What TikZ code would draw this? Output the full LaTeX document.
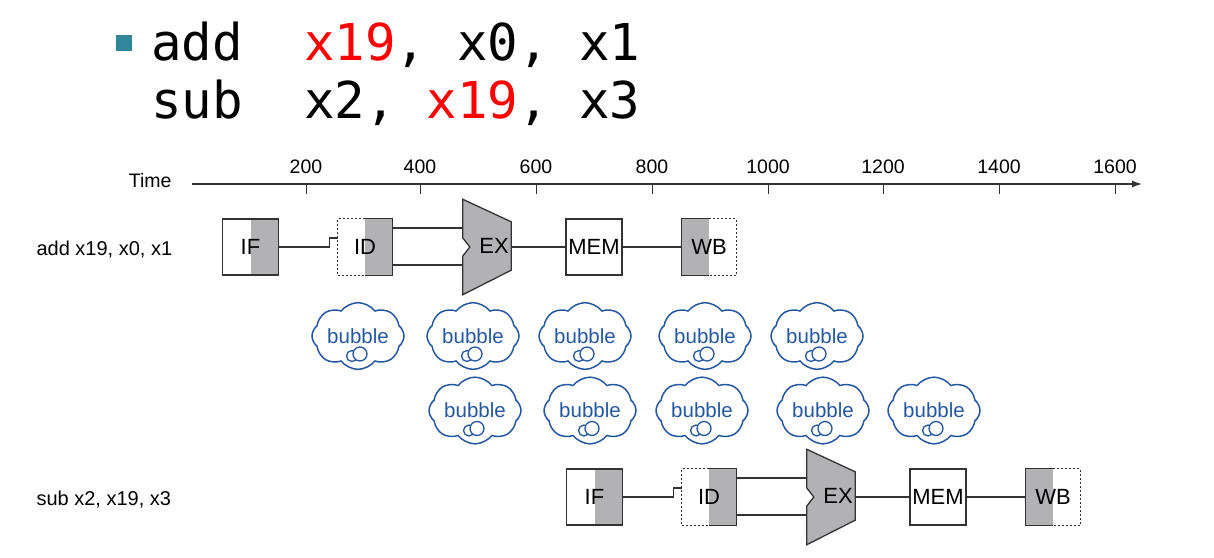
\documentclass[tikz,border=0pt]{standalone}
\usepackage{fontspec}
\setmainfont{Liberation Sans}
\setmonofont{DejaVu Sans Mono}
\usetikzlibrary{arrows.meta,calc,shapes.symbols}
\definecolor{StageGray}{HTML}{B2B2B4}
\definecolor{LineGray}{HTML}{333333}
\definecolor{BubbleBlue}{HTML}{2457A0}
\definecolor{CodeRed}{HTML}{FF0000}
\definecolor{BulletTeal}{HTML}{31869B}

\begin{document}
\begin{tikzpicture}[x=1pt,y=-1pt,>=Latex,
  every node/.style={font=\fontsize{19.5}{19.5}\selectfont},
  code/.style={anchor=base west, inner sep=0pt, font=\ttfamily\fontsize{50.8}{50.8}\selectfont},
  stage/.style={minimum width=56pt, minimum height=56pt, inner sep=0pt, font=\fontsize{22}{22}\selectfont},
  grayright/.style={path picture={\fill[StageGray] (path picture bounding box.south) rectangle (path picture bounding box.north east);}},
  grayleft/.style={path picture={\fill[StageGray] (path picture bounding box.south west) rectangle (path picture bounding box.north);}},
  wire/.style={LineGray, line width=1.3pt},
  halfdot/.style={LineGray, line width=1.3pt, dash pattern=on 2pt off 2pt},
  bubble/.style={cloud, cloud puffs=8, cloud puff arc=105, aspect=1.6, draw=BubbleBlue, line width=1.5pt, text=BubbleBlue, minimum width=92pt, minimum height=60pt, inner sep=0pt, font=\fontsize{20.5}{20.5}\selectfont}]
  \useasboundingbox (0,0) rectangle (1214,557);

  % instructions
  \node[fill=BulletTeal, minimum size=16pt, inner sep=0pt] (dot) at (123.5,43) {};
  \node[code] (line1) at (151,60) {add\ \ \textcolor{CodeRed}{x19}, x0, x1};
  \node[code] (line2) at (151,118) {sub\ \ x2, \textcolor{CodeRed}{x19}, x3};

  % time axis
  \node[anchor=east] (time) at (175,181) {Time};
  \coordinate (t0) at (192,184);
  \coordinate (t1) at (1142,184);
  \draw[-{Latex[length=10pt,width=7pt]}, LineGray, line width=1.2pt] (t0) -- (t1);
  \foreach \x/\t in {306/200,420/400,536/600,652/800,768/1000,883/1200,999/1400,1115/1600} {
    \draw[LineGray, line width=0.8pt] (\x,184) -- (\x,194);
    \node (tick\t) at (\x,167) {\t};
  }

  % the two instructions
  \foreach \r/\dx/\dy/\lab in {a/0/0/{add x19, x0, x1}, s/344/250/{sub x2, x19, x3}} {
    \node[anchor=west, font=\fontsize{20}{20}\selectfont] (lab\r) at (33,250+\dy) {\lab};
    \begin{scope}[shift={(\dx,\dy)}]
      \node[stage, draw=LineGray, line width=1.3pt, grayright] (if\r) at (250.5,247) {IF};
      \node[stage, minimum width=54pt, grayright] (id\r) at (365,247) {ID};
      \draw[wire] (id\r.north) -| (id\r.south east) -- (id\r.south);
      \draw[halfdot] (id\r.north) -| (id\r.south west) -- (id\r.south);
      \node[minimum width=48pt, minimum height=95pt, inner sep=0pt] (ex\r) at (487,247) {};
      \filldraw[fill=StageGray, draw=LineGray, line width=1.3pt] (ex\r.north west)
        -- ([yshift=-22.5pt]ex\r.north east) -- ([yshift=24.5pt]ex\r.south east)
        -- (ex\r.south west) -- ([yshift=-9pt]ex\r.west) -- ([xshift=7pt]ex\r.west)
        -- ([yshift=9pt]ex\r.west) -- cycle;
      \node[stage] (exl\r) at ([xshift=7pt,yshift=1pt]ex\r.center) {EX};
      \node[stage, draw=LineGray, line width=1.3pt] (mem\r) at (594,247) {MEM};
      \node[stage, minimum width=54pt, grayleft] (wb\r) at (709,247) {WB};
      \draw[wire] (wb\r.north) -| (wb\r.south west) -- (wb\r.south);
      \draw[halfdot] (wb\r.north) -| (wb\r.south east) -- (wb\r.south);

      \draw[wire] (if\r.east) -- ([xshift=-8pt]id\r.west) |- ([yshift=9pt]id\r.west);
      \draw[wire] ([yshift=19pt]id\r.east) -- ([yshift=19pt]ex\r.west);
      \draw[wire] ([yshift=-18pt]id\r.east) -- ([yshift=-18pt]ex\r.west);
      \draw[wire] (ex\r.east) -- (mem\r.west);
      \draw[wire] (mem\r.east) -- (wb\r.west);
    \end{scope}
  }

  % stall bubbles
  \foreach \n/\x/\y in {1/358/336,2/473/336,3/585/336,4/705/336,5/817/336,6/475/410.5,7/590/410.5,8/702/410.5,9/823/410.5,10/934/410.5} {
    \node[bubble] (bub\n) at (\x,\y) {bubble};
    \draw[BubbleBlue, line width=1.3pt, fill=white] ([xshift=-6pt,yshift=-20pt]bub\n.center) circle (5.5);
    \draw[BubbleBlue, line width=1.3pt, fill=white] ([xshift=2pt,yshift=-18pt]bub\n.center) circle (7);
  }
\end{tikzpicture}
\end{document}
